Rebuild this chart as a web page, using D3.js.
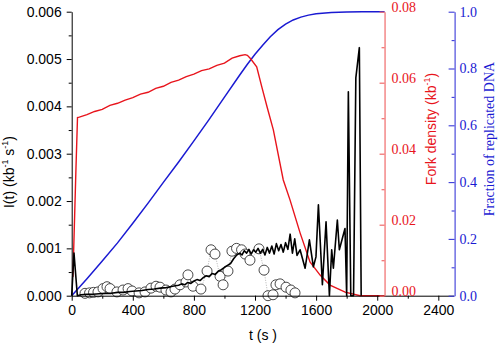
<!DOCTYPE html>
<html>
<head>
<meta charset="utf-8">
<script src="https://cdn.jsdelivr.net/npm/d3@7"></script>
<style>
  html, body { margin: 0; padding: 0; background: #fff; }
  svg { display: block; }
  .sans { font-family: "Liberation Sans", Arial, sans-serif; }
  .serif { font-family: "Liberation Serif", "Times New Roman", serif; }
</style>
</head>
<body>
<svg id="chart" width="498" height="345"></svg>
<script>
// ---- data ----
// time ticks (s)
const timeTicks = [0, 400, 800, 1200, 1600, 2000, 2400];
const rateTicks = [0, 0.001, 0.002, 0.003, 0.004, 0.005, 0.006];
const forkTicks = [0, 0.02, 0.04, 0.06, 0.08];
const fracTicks = [0, 0.2, 0.4, 0.6, 0.8, 1.0];

// initiation rate I(t), simulated (black line)
const rateTime = [0, 15, 37, 60, 100, 140, 180, 220, 260, 300, 340, 380, 420, 460, 500, 540, 580, 620, 660, 700,
  720, 740, 760, 780, 800, 820, 840, 860, 880, 900, 920, 940, 960, 980, 1000, 1020, 1040, 1060, 1080, 1100,
  1115, 1130, 1145, 1160, 1175, 1190, 1205, 1220, 1235, 1250, 1265, 1280, 1295, 1310, 1325, 1340, 1355, 1370,
  1385, 1400, 1415, 1430, 1445, 1460, 1475, 1495, 1528, 1556, 1582, 1599, 1615, 1641, 1665, 1687, 1702, 1713,
  1739, 1752, 1789, 1800, 1811, 1827, 1845, 1860, 1883, 1895];
const rateValue = [0, 0.0009, 0, 0.00002, 0.00003, 0.00003, 0.00004, 0.00005, 0.00005, 0.00007, 0.00007, 0.00009,
  0.0001, 0.00011, 0.00013, 0.00014, 0.00016, 0.00017, 0.0002, 0.00022,
  0.00025, 0.00023, 0.00028, 0.00026, 0.00031, 0.00034, 0.00032, 0.00038, 0.00042, 0.0004, 0.00047, 0.00045,
  0.00052, 0.00055, 0.0006, 0.00064, 0.00068, 0.00078, 0.00086, 0.0009,
  0.00086, 0.00095, 0.0009, 0.00098, 0.00088, 0.00097, 0.00092, 0.001, 0.0009, 0.00098, 0.00086, 0.00102,
  0.0009, 0.00105, 0.00088, 0.0011, 0.00095, 0.00108,
  0.00092, 0.00112, 0.00098, 0.0013, 0.0009, 0.0012, 0.00085, 0.00097, 0.00058, 0.00118, 0.00061, 0.00082,
  0.00192, 0.00023, 0.00156, 0, 0.00097, 0.00058,
  0.0016, 0.00097, 0.00142, 0, 0.00431, 0, 0, 0.0046, 0.00524, 0];

// initiation rate I(t), measured (open circles)
const obsTime = [87, 117, 143, 172, 205, 231, 251, 296, 336, 369, 395, 441, 480, 519, 552, 578, 617, 650, 676,
  709, 748, 761, 794, 846, 886, 912, 938, 971, 991, 1023, 1049, 1079, 1112, 1135, 1167, 1226, 1259, 1285,
  1318, 1337, 1364, 1403, 1435, 1462];
const obsValue = [0.00005, 0.00006, 0.00007, 0.00008, 0.00015, 0.00019, 0.00015, 0.00008, 0.00012, 0.00015,
  0.0001, 0.00006, 0.00008, 0.00016, 0.0002, 0.00018, 0.00012, 0.00008, 0.00014,
  0.00023, 0.00029, 0.00044, 0.0002, 0.00014, 0.00052, 0.00097, 0.00088, 0.00041, 0.00023, 0.00052, 0.00094,
  0.001, 0.00097, 0.00088, 0.00075, 0.00099, 0.00054, 0,
  0.00002, 0.00023, 0.00025, 0.00018, 0.00012, 0.00006];

// fork density (kb^-1), red line
const forkTime = [8, 28, 38, 50, 100, 150, 200, 250, 300, 350, 400, 450, 500, 550, 600, 650, 700, 750, 800,
  850, 900, 950, 1000, 1050, 1100, 1135, 1150, 1170, 1211, 1244, 1280, 1320, 1385, 1429, 1495, 1560, 1626,
  1691, 1790, 1888, 2048];
const forkValue = [0.0053, 0.036, 0.0502, 0.0503, 0.0510, 0.0519, 0.0525, 0.0536, 0.0542, 0.0551, 0.0558,
  0.0568, 0.0573, 0.0584, 0.0590, 0.0601, 0.0607, 0.0617, 0.0624,
  0.0634, 0.0639, 0.0649, 0.0655, 0.0669, 0.0676, 0.0679, 0.0677, 0.0668, 0.0645, 0.0589, 0.0530, 0.0467,
  0.0326, 0.0270, 0.0177, 0.0095, 0.0058,
  0.0030, 0.0010, 0, 0];

// fraction of replicated DNA, blue line
const fracTime = [0, 100, 200, 300, 400, 500, 600, 700, 800, 900, 1000, 1100, 1150, 1200, 1250, 1300, 1350,
  1400, 1450, 1500, 1550, 1600, 1700, 1800, 1900, 2048];
const fracValue = [0, 0.060, 0.122, 0.186, 0.255, 0.326, 0.399, 0.471, 0.545, 0.621, 0.699, 0.777, 0.815,
  0.850, 0.882, 0.912, 0.937, 0.956, 0.971, 0.981, 0.988, 0.993, 0.997, 0.999, 1.0, 1.0];

// ---- layout ----
const plotLeft = 71.7, plotRight = 453.6, plotBottom = 295.7, plotTop = 11.7;
const forkAxisTime = 2048;   // right-hand fork-density axis sits at this time
const RED = "#e8141c", BLUE = "#1a1ad2";

const svg = d3.select("#chart");

const x = d3.scaleLinear().domain([0, 2500]).range([plotLeft, plotRight]);
const yRate = d3.scaleLinear().domain([0, 0.006]).range([plotBottom, plotTop]);
const yFork = d3.scaleLinear().domain([0, 0.08]).range([plotBottom, plotTop]);
const yFrac = d3.scaleLinear().domain([0, 1]).range([plotBottom, plotTop]);

const zip = (a, b) => a.map((d, i) => [d, b[i]]);

// ---- curves ----
const fracLine = d3.line().x(d => x(d[0])).y(d => yFrac(d[1]));
svg.append("path").datum(zip(fracTime, fracValue))
  .attr("d", fracLine).attr("fill", "none").attr("stroke", BLUE).attr("stroke-width", 1.5);

const forkLine = d3.line().x(d => x(d[0])).y(d => yFork(d[1]));
svg.append("path").datum(zip(forkTime, forkValue))
  .attr("d", forkLine).attr("fill", "none").attr("stroke", RED).attr("stroke-width", 1.4);

const rateLine = d3.line().x(d => x(d[0])).y(d => yRate(d[1]));
const obs = zip(obsTime, obsValue);
svg.append("path").datum(obs)
  .attr("d", rateLine).attr("fill", "none").attr("stroke", "#a0a0a0")
  .attr("stroke-width", 0.8).attr("stroke-dasharray", "1,1.5");
svg.append("g").selectAll("circle").data(obs).join("circle")
  .attr("cx", d => x(d[0])).attr("cy", d => yRate(d[1])).attr("r", 5)
  .attr("fill", "#fff").attr("stroke", "#333").attr("stroke-width", 0.9);

svg.append("path").datum(zip(rateTime, rateValue))
  .attr("d", rateLine).attr("fill", "none").attr("stroke", "#000")
  .attr("stroke-width", 1.6).attr("stroke-linejoin", "round");

// ---- axes ----
function minorBetween(ticks, n) {
  const out = [];
  for (let i = 0; i < ticks.length - 1; i++) {
    const step = (ticks[i + 1] - ticks[i]) / n;
    for (let k = 1; k < n; k++) out.push(ticks[i] + k * step);
  }
  return out;
}

// bottom time axis
const gx = svg.append("g").attr("transform", `translate(0,${plotBottom})`).attr("class", "sans");
gx.call(d3.axisBottom(x).tickValues(timeTicks).tickFormat(d3.format("d")).tickSize(5).tickSizeOuter(0).tickPadding(4));
gx.append("g").call(d3.axisBottom(x).tickValues(minorBetween(timeTicks.concat([2800]), 2).filter(v => v < 2500))
  .tickFormat("").tickSize(3).tickSizeOuter(0)).select(".domain").remove();
gx.selectAll("text").attr("font-size", 14).attr("fill", "#000");
gx.selectAll("line, path").attr("stroke", "#000");

// left rate axis
const gl = svg.append("g").attr("transform", `translate(${plotLeft},0)`).attr("class", "sans");
gl.call(d3.axisLeft(yRate).tickValues(rateTicks).tickFormat(d3.format(".3f")).tickSize(5).tickSizeOuter(0).tickPadding(5));
gl.append("g").call(d3.axisLeft(yRate).tickValues(minorBetween(rateTicks, 2)).tickFormat("").tickSize(3).tickSizeOuter(0))
  .select(".domain").remove();
gl.selectAll("text").attr("font-size", 14).attr("fill", "#000");
gl.selectAll("line, path").attr("stroke", "#000");

// fork density axis (red)
const gr = svg.append("g").attr("transform", `translate(${x(forkAxisTime)},0)`).attr("class", "serif");
gr.call(d3.axisRight(yFork).tickValues(forkTicks).tickFormat(d3.format(".2f")).tickSizeInner(-5).tickSizeOuter(0).tickPadding(7));
gr.append("g").call(d3.axisRight(yFork).tickValues(minorBetween(forkTicks, 2)).tickFormat("").tickSizeInner(-3).tickSizeOuter(0))
  .select(".domain").remove();
gr.selectAll("text").attr("font-size", 14).attr("fill", RED).attr("dy", "0");
gr.selectAll("line, path").attr("stroke", "#f06a6a").attr("stroke-width", 1.2);

// replicated fraction axis (blue)
const gb = svg.append("g").attr("transform", `translate(${plotRight + 1},0)`).attr("class", "serif");
gb.call(d3.axisRight(yFrac).tickValues(fracTicks).tickFormat(d3.format(".1f")).tickSizeInner(-6).tickSizeOuter(0).tickPadding(5));
gb.append("g").call(d3.axisRight(yFrac).tickValues(minorBetween(fracTicks, 2)).tickFormat("").tickSizeInner(-3).tickSizeOuter(0))
  .select(".domain").remove();
gb.selectAll("text").attr("font-size", 14).attr("fill", BLUE);
gb.selectAll("line, path").attr("stroke", "#3a3ad8").attr("stroke-width", 1.1);

// ---- titles ----
svg.append("text").attr("class", "sans").attr("font-size", 14)
  .attr("x", 263).attr("y", 340).attr("text-anchor", "middle").text("t (s )");

const lt = svg.append("text").attr("class", "sans").attr("font-size", 14).attr("text-anchor", "middle")
  .attr("transform", "translate(14,172) rotate(-90)");
lt.append("tspan").text("I(t) (kb");
lt.append("tspan").attr("font-size", 9).attr("dy", -6).text("-1");
lt.append("tspan").attr("dy", 6).text(" s");
lt.append("tspan").attr("font-size", 9).attr("dy", -6).text("-1");
lt.append("tspan").attr("dy", 6).text(")");

const rt = svg.append("text").attr("class", "sans").attr("font-size", 14).attr("text-anchor", "middle")
  .attr("fill", RED).attr("transform", "translate(436,129) rotate(-90)");
rt.append("tspan").text("Fork density (kb");
rt.append("tspan").attr("font-size", 9).attr("dy", -6).text("-1");
rt.append("tspan").attr("dy", 6).text(")");

svg.append("text").attr("class", "serif").attr("font-size", 14).attr("text-anchor", "middle")
  .attr("fill", BLUE).attr("transform", "translate(494,139) rotate(-90)")
  .text("Fraction of replicated DNA");
</script>
</body>
</html>
